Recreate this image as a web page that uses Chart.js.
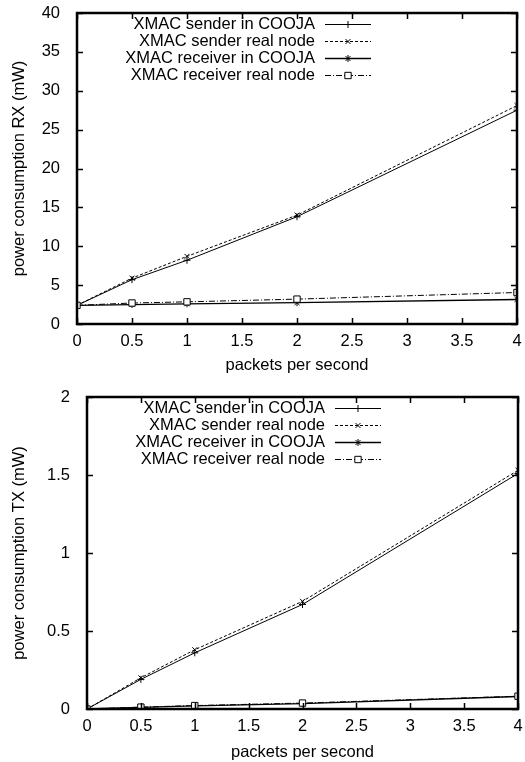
<!DOCTYPE html>
<html>
<head>
<meta charset="utf-8">
<title>XMAC power consumption</title>
<script src="https://cdn.jsdelivr.net/npm/chart.js@4/dist/chart.umd.min.js"></script>
<style>
    html, body { margin: 0; padding: 0; background: #fff; }
    #wrap { position: relative; width: 525px; height: 762px; }
    .box { position: absolute; left: 0; width: 525px; height: 381px; }
</style>
</head>
<body>
<div id="wrap">
    <div class="box" style="top:0"><canvas id="rx-chart"></canvas></div>
    <div class="box" style="top:381px"><canvas id="tx-chart"></canvas></div>
</div>
<script>
// packets per second (x positions of the measurements)
const rates = [0, 0.5, 1, 2, 4];

const seriesLabels = [
    'XMAC sender in COOJA',
    'XMAC sender real node',
    'XMAC receiver in COOJA',
    'XMAC receiver real node'
];

// power consumption RX (mW)
const rxSenderCooja   = [2.4, 5.7, 8.2, 13.8, 27.5];
const rxSenderReal    = [2.4, 5.9, 8.7, 14.0, 28.1];
const rxReceiverCooja = [2.4, 2.5, 2.6, 2.75, 3.15];
const rxReceiverReal  = [2.4, 2.7, 2.85, 3.2, 4.05];

// power consumption TX (mW)
const txSenderCooja   = [0, 0.19, 0.36, 0.67, 1.51];
const txSenderReal    = [0, 0.20, 0.38, 0.69, 1.53];
const txReceiverCooja = [0, 0.010, 0.020, 0.035, 0.080];
const txReceiverReal  = [0, 0.012, 0.022, 0.038, 0.082];

const xTicks = { min: 0, max: 4, step: 0.5 };
const rxTicks = { min: 0, max: 40, step: 5 };
const txTicks = { min: 0, max: 2, step: 0.5 };

(function() {
    'use strict';

    const FONT = { family: '"Liberation Sans", Arial, sans-serif', size: 16.5 };

    // line / marker look of the four gnuplot styles
    const styles = [
        { dash: [],           width: 1,   pointStyle: 'cross',    radius: 3.5, fill: '#000' },
        { dash: [3, 2],       width: 1,   pointStyle: 'crossRot', radius: 3.5, fill: '#000' },
        { dash: [],           width: 1.3, pointStyle: 'star',     radius: 3.5, fill: '#000' },
        { dash: [6, 2, 1, 2], width: 1,   pointStyle: 'rect',     radius: 4.5, fill: '#fff' }
    ];

    // gnuplot style numbers: 1 not 1.0
    function plainNumber(value) {
        return String(Number(value.toFixed(3)));
    }

    function toPoints(values) {
        return values.map((v, i) => ({ x: rates[i], y: v }));
    }

    function buildDatasets(seriesValues) {
        return seriesValues.map((values, i) => ({
            label: seriesLabels[i],
            data: toPoints(values),
            borderColor: '#000',
            borderWidth: styles[i].width,
            borderDash: styles[i].dash,
            pointStyle: styles[i].pointStyle,
            pointRadius: styles[i].radius,
            pointBorderWidth: 1,
            pointBorderColor: '#000',
            pointBackgroundColor: styles[i].fill,
            tension: 0,
            fill: false,
            order: 4 - i
        }));
    }

    // frame with inward ticks on all four sides (gnuplot look)
    const framePlugin = {
        id: 'frame',
        afterDatasetsDraw(chart) {
            const { ctx, chartArea: a, scales } = chart;
            const tick = 6;
            ctx.save();
            ctx.strokeStyle = '#000';
            ctx.lineWidth = 1.5;
            ctx.setLineDash([]);
            ctx.beginPath();
            scales.x.ticks.forEach(t => {
                const px = Math.round(scales.x.getPixelForValue(t.value)) + 0.5;
                ctx.moveTo(px, a.bottom);
                ctx.lineTo(px, a.bottom - tick);
                ctx.moveTo(px, a.top);
                ctx.lineTo(px, a.top + tick);
            });
            scales.y.ticks.forEach(t => {
                const py = Math.round(scales.y.getPixelForValue(t.value)) + 0.5;
                ctx.moveTo(a.left, py);
                ctx.lineTo(a.left + tick, py);
                ctx.moveTo(a.right, py);
                ctx.lineTo(a.right - tick, py);
            });
            ctx.stroke();
            ctx.lineWidth = 2.5;
            ctx.strokeRect(a.left, a.top, a.right - a.left, a.bottom - a.top);
            ctx.restore();
        }
    };

    // key in the top-left corner: right-aligned text, then a line sample
    const keyPlugin = {
        id: 'key',
        afterDraw(chart) {
            const { ctx, chartArea: a } = chart;
            ctx.save();
            ctx.font = FONT.size + 'px ' + FONT.family;
            ctx.textAlign = 'right';
            ctx.textBaseline = 'middle';
            chart.data.datasets.forEach((ds, i) => {
                const y = a.top + 11 + i * 17;
                const textRight = a.left + 238;
                const x0 = a.left + 248;
                const x1 = a.left + 294;
                ctx.fillStyle = '#000';
                ctx.fillText(ds.label, textRight, y);

                ctx.strokeStyle = ds.borderColor;
                ctx.lineWidth = ds.borderWidth;
                ctx.setLineDash(ds.borderDash);
                ctx.beginPath();
                ctx.moveTo(x0, y + 0.5);
                ctx.lineTo(x1, y + 0.5);
                ctx.stroke();
                ctx.setLineDash([]);

                ctx.strokeStyle = ds.pointBorderColor;
                ctx.fillStyle = ds.pointBackgroundColor;
                ctx.lineWidth = ds.pointBorderWidth;
                Chart.helpers.drawPoint(ctx, {
                    pointStyle: ds.pointStyle,
                    radius: ds.pointRadius,
                    rotation: 0,
                    borderWidth: ds.pointBorderWidth
                }, (x0 + x1) / 2, y + 0.5);
            });
            ctx.restore();
        }
    };

    function makeChart(id, seriesValues, yRange, yTitle, box) {
        const ctx = document.getElementById(id);
        if (!ctx) return null;

        return new Chart(ctx, {
            type: 'line',
            data: { datasets: buildDatasets(seriesValues) },
            options: {
                responsive: true,
                maintainAspectRatio: false,
                animation: false,
                layout: {
                    padding: { top: box.top, right: box.right, left: 0, bottom: 0 }
                },
                plugins: {
                    legend: { display: false },
                    tooltip: { enabled: false }
                },
                scales: {
                    x: {
                        type: 'linear',
                        min: xTicks.min,
                        max: xTicks.max,
                        ticks: {
                            stepSize: xTicks.step,
                            color: '#000',
                            font: FONT,
                            padding: 0,
                            maxRotation: 0,
                            callback: plainNumber
                        },
                        grid: { display: false },
                        border: { display: false },
                        title: {
                            display: true,
                            text: 'packets per second',
                            color: '#000',
                            font: FONT,
                            padding: { top: 0, bottom: box.titleBottom }
                        },
                        afterFit(scale) {
                            scale.height = box.xHeight;
                            scale.paddingLeft = 0;
                            scale.paddingRight = 0;
                        }
                    },
                    y: {
                        type: 'linear',
                        min: yRange.min,
                        max: yRange.max,
                        ticks: {
                            stepSize: yRange.step,
                            color: '#000',
                            font: FONT,
                            padding: 9,
                            callback: plainNumber
                        },
                        grid: { display: false },
                        border: { display: false },
                        title: {
                            display: true,
                            text: yTitle,
                            color: '#000',
                            font: FONT,
                            padding: { top: 10, bottom: 0 }
                        },
                        afterFit(scale) {
                            scale.width = box.yWidth;
                            scale.paddingTop = 0;
                            scale.paddingBottom = 0;
                        }
                    }
                }
            },
            plugins: [framePlugin, keyPlugin]
        });
    }

    makeChart('rx-chart',
        [rxSenderCooja, rxSenderReal, rxReceiverCooja, rxReceiverReal],
        rxTicks, 'power consumption RX (mW)',
        { top: 13, right: 8, yWidth: 77, xHeight: 57, titleBottom: 6 });

    makeChart('tx-chart',
        [txSenderCooja, txSenderReal, txReceiverCooja, txReceiverReal],
        txTicks, 'power consumption TX (mW)',
        { top: 16, right: 7, yWidth: 87, xHeight: 53, titleBottom: 0 });
})();
</script>
</body>
</html>
